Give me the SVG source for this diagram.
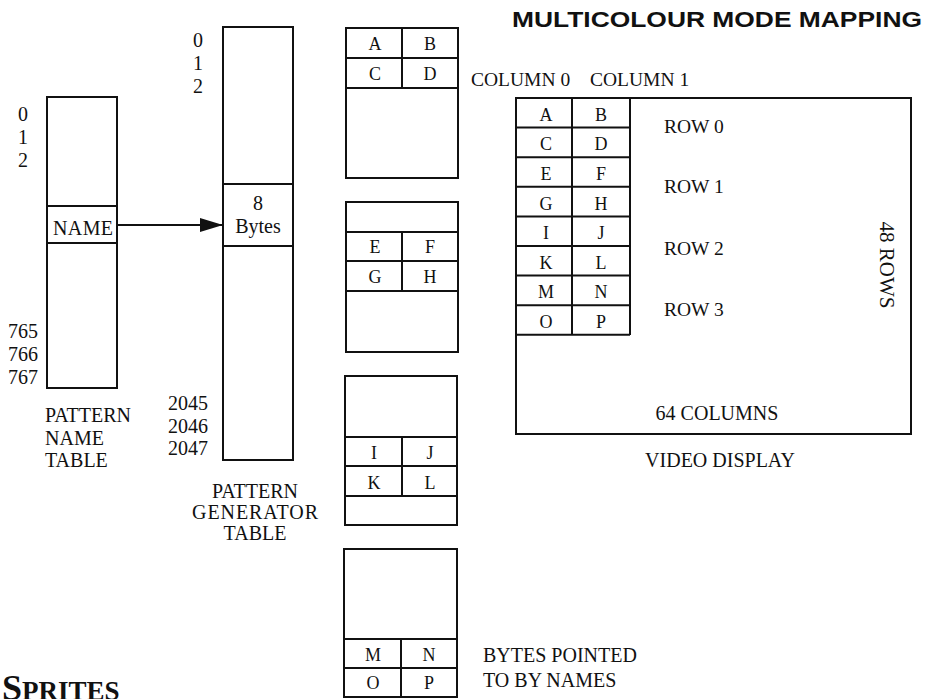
<svg xmlns="http://www.w3.org/2000/svg" width="931" height="699" viewBox="0 0 931 699">
<style>
.box{fill:none;stroke:#111;stroke-width:2}
.ln{stroke:#111;stroke-width:2;fill:none}
.t{font-family:"Liberation Serif","Times New Roman",serif;fill:#111;font-size:20px}
.s{font-size:18px}
.r{font-size:19.5px}
.c{text-anchor:middle}
.title{font-family:"Liberation Sans",Arial,sans-serif;font-weight:bold;font-size:21.5px;fill:#111}
</style>
<defs>
<marker id="ah" markerWidth="24" markerHeight="14" refX="23" refY="7" orient="auto" markerUnits="userSpaceOnUse">
<path d="M0,0 L23,7 L0,14 Z" fill="#111"/>
</marker>
</defs>
<rect width="931" height="699" fill="#fff"/>

<text class="title" x="512" y="27" textLength="410" lengthAdjust="spacingAndGlyphs">MULTICOLOUR MODE MAPPING</text>

<g id="pattern-name-table">
<rect class="box" x="47" y="97" width="70" height="291"/>
<line class="ln" x1="47" y1="206" x2="117" y2="206"/>
<line class="ln" x1="47" y1="243" x2="117" y2="243"/>
<text class="t c" x="83" y="235" textLength="60">NAME</text>
<text class="t" x="18" y="121">0</text>
<text class="t" x="18" y="144">1</text>
<text class="t" x="18" y="167">2</text>
<text class="t" x="8" y="338">765</text>
<text class="t" x="8" y="361">766</text>
<text class="t" x="8" y="384">767</text>
<text class="t" x="45" y="422">PATTERN</text>
<text class="t" x="45" y="445">NAME</text>
<text class="t" x="45" y="467">TABLE</text>
</g>

<g id="pattern-generator-table">
<rect class="box" x="223" y="27" width="70" height="433"/>
<line class="ln" x1="223" y1="184" x2="293" y2="184"/>
<line class="ln" x1="223" y1="246" x2="293" y2="246"/>
<text class="t c" x="258" y="210">8</text>
<text class="t c" x="258" y="233">Bytes</text>
<text class="t" x="193" y="47">0</text>
<text class="t" x="193" y="70">1</text>
<text class="t" x="193" y="93">2</text>
<text class="t" x="168" y="410">2045</text>
<text class="t" x="168" y="433">2046</text>
<text class="t" x="168" y="455">2047</text>
<text class="t c" x="255" y="498">PATTERN</text>
<text class="t c" x="255" y="519" textLength="126">GENERATOR</text>
<text class="t c" x="255" y="540">TABLE</text>
</g>

<g id="connectors">
<line class="ln" x1="117" y1="225" x2="223" y2="225" marker-end="url(#ah)"/>
</g>

<g id="bytes-box-1">
<rect class="box" x="346" y="28" width="112" height="150"/>
<line class="ln" x1="346" y1="58" x2="458" y2="58"/>
<line class="ln" x1="346" y1="88" x2="458" y2="88"/>
<line class="ln" x1="402" y1="28" x2="402" y2="88"/>
<text class="t s c" x="375" y="50">A</text>
<text class="t s c" x="430" y="50">B</text>
<text class="t s c" x="375" y="80">C</text>
<text class="t s c" x="430" y="80">D</text>
</g>

<g id="bytes-box-2">
<rect class="box" x="346" y="202" width="112" height="150"/>
<line class="ln" x1="346" y1="232" x2="458" y2="232"/>
<line class="ln" x1="346" y1="261" x2="458" y2="261"/>
<line class="ln" x1="346" y1="291" x2="458" y2="291"/>
<line class="ln" x1="402" y1="232" x2="402" y2="291"/>
<text class="t s c" x="375" y="253">E</text>
<text class="t s c" x="430" y="253">F</text>
<text class="t s c" x="375" y="283">G</text>
<text class="t s c" x="430" y="283">H</text>
</g>

<g id="bytes-box-3">
<rect class="box" x="345" y="376" width="112" height="149"/>
<line class="ln" x1="345" y1="437" x2="457" y2="437"/>
<line class="ln" x1="345" y1="466" x2="457" y2="466"/>
<line class="ln" x1="345" y1="496" x2="457" y2="496"/>
<line class="ln" x1="402" y1="437" x2="402" y2="496"/>
<text class="t s c" x="374" y="459">I</text>
<text class="t s c" x="430" y="459">J</text>
<text class="t s c" x="374" y="489">K</text>
<text class="t s c" x="430" y="489">L</text>
</g>

<g id="bytes-box-4">
<rect class="box" x="344" y="549" width="113" height="148"/>
<line class="ln" x1="344" y1="639" x2="457" y2="639"/>
<line class="ln" x1="344" y1="668" x2="457" y2="668"/>
<line class="ln" x1="401" y1="639" x2="401" y2="697"/>
<text class="t s c" x="373" y="661">M</text>
<text class="t s c" x="429" y="661">N</text>
<text class="t s c" x="373" y="689">O</text>
<text class="t s c" x="429" y="689">P</text>
<text class="t" x="483" y="662">BYTES POINTED</text>
<text class="t" x="483" y="687">TO BY NAMES</text>
</g>

<g id="video-display">
<rect class="box" x="516" y="98" width="395" height="336"/>
<line class="ln" x1="572" y1="98" x2="572" y2="335"/>
<line class="ln" x1="630" y1="98" x2="630" y2="335"/>
<line class="ln" x1="516" y1="127.6" x2="630" y2="127.6"/>
<line class="ln" x1="516" y1="157.2" x2="630" y2="157.2"/>
<line class="ln" x1="516" y1="186.8" x2="630" y2="186.8"/>
<line class="ln" x1="516" y1="216.4" x2="630" y2="216.4"/>
<line class="ln" x1="516" y1="246" x2="630" y2="246"/>
<line class="ln" x1="516" y1="275.6" x2="630" y2="275.6"/>
<line class="ln" x1="516" y1="305.2" x2="630" y2="305.2"/>
<line class="ln" x1="516" y1="334.8" x2="630" y2="334.8"/>
<text class="t s c" x="546" y="121">A</text>
<text class="t s c" x="601" y="121">B</text>
<text class="t s c" x="546" y="150">C</text>
<text class="t s c" x="601" y="150">D</text>
<text class="t s c" x="546" y="180">E</text>
<text class="t s c" x="601" y="180">F</text>
<text class="t s c" x="546" y="210">G</text>
<text class="t s c" x="601" y="210">H</text>
<text class="t s c" x="546" y="239">I</text>
<text class="t s c" x="601" y="239">J</text>
<text class="t s c" x="546" y="269">K</text>
<text class="t s c" x="601" y="269">L</text>
<text class="t s c" x="546" y="298">M</text>
<text class="t s c" x="601" y="298">N</text>
<text class="t s c" x="546" y="328">O</text>
<text class="t s c" x="601" y="328">P</text>
<text class="t r" x="664" y="133">ROW 0</text>
<text class="t r" x="664" y="193">ROW 1</text>
<text class="t r" x="664" y="255">ROW 2</text>
<text class="t r" x="664" y="316">ROW 3</text>
<text class="t c" transform="translate(880,265) rotate(90)" x="0" y="0" style="font-size:21px">48 ROWS</text>
<text class="t c" x="717" y="420">64 COLUMNS</text>
<text class="t r" x="471" y="86">COLUMN 0</text>
<text class="t r" x="590" y="86">COLUMN 1</text>
<text class="t c" x="720" y="467">VIDEO DISPLAY</text>
</g>

<text x="2" y="700" font-family="'Liberation Serif','Times New Roman',serif" font-weight="bold" fill="#111"><tspan font-size="36">S</tspan><tspan font-size="27">PRITES</tspan></text>
</svg>
